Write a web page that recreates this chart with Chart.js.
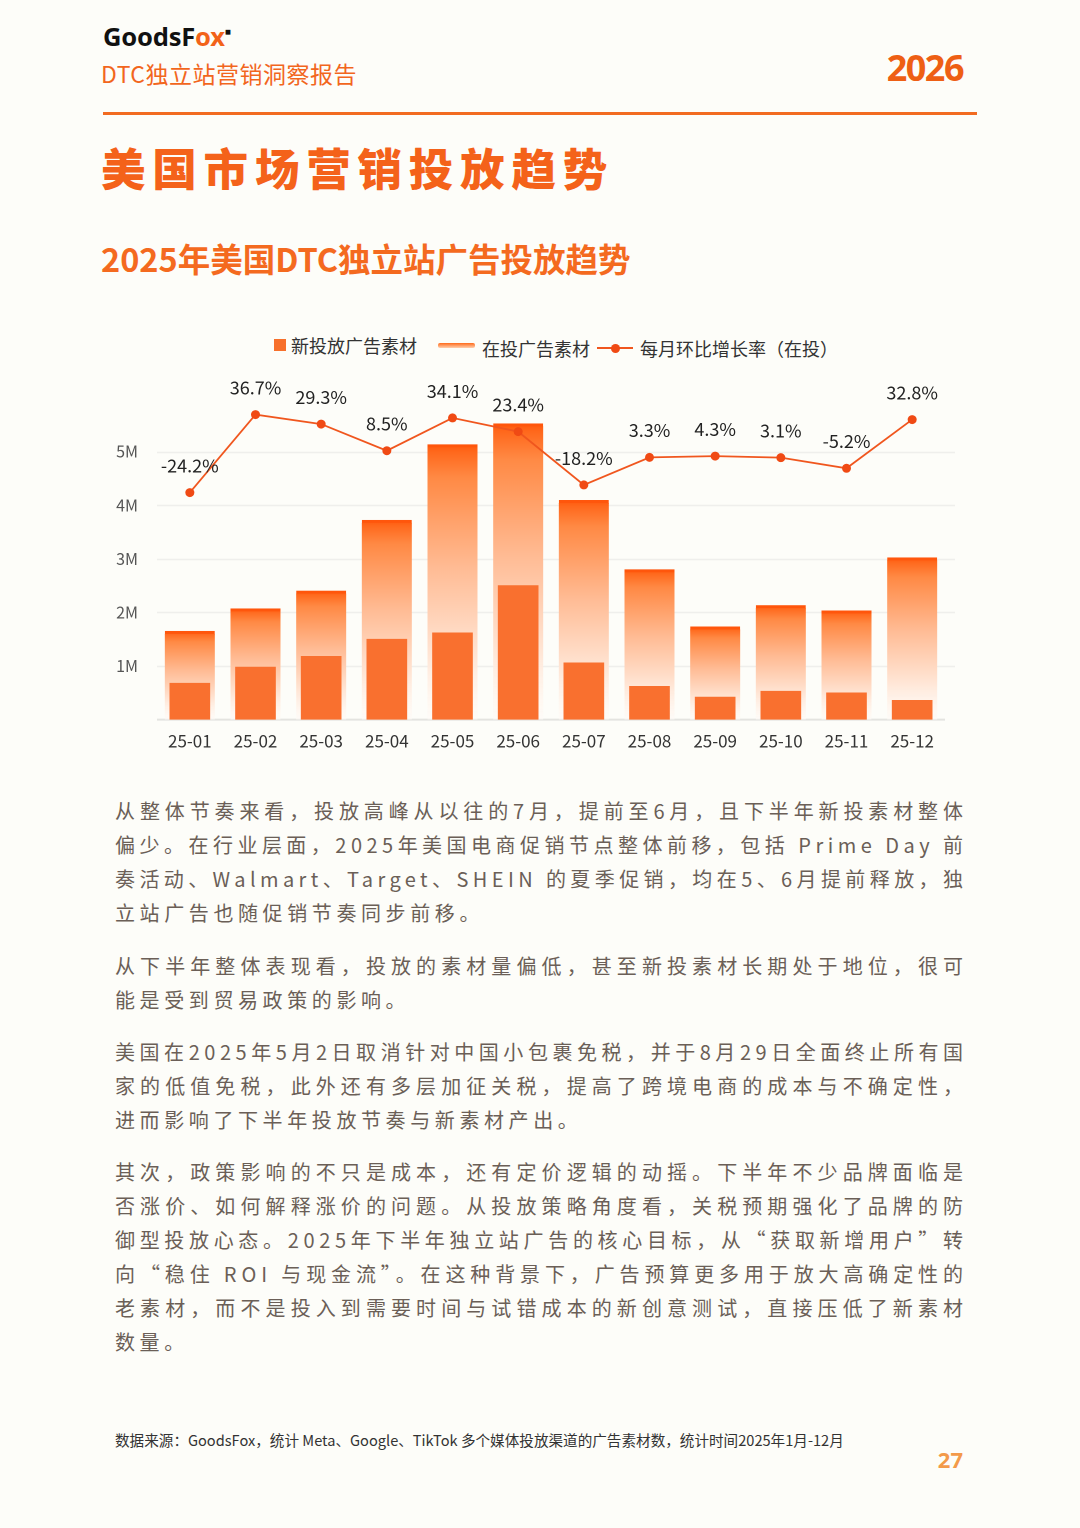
<!DOCTYPE html>
<html lang="zh-CN">
<head>
<meta charset="utf-8">
<script src="https://cdn.jsdelivr.net/npm/chart.js@4.4.1/dist/chart.umd.min.js"></script>
<style>
  html, body { margin: 0; padding: 0; }
  body {
    width: 1080px; height: 1528px; position: relative; overflow: hidden;
    background: #fdfdf9; font-family: "Noto Sans CJK SC", "Noto Sans", sans-serif;
  }
  .abs { position: absolute; white-space: nowrap; }
  .logo { left: 103px; top: 19px; font-family: "Noto Sans", sans-serif; font-weight: 700; font-size: 25.5px; color: #111; letter-spacing: -0.2px; }
  .logo .o { color: #f2631a; }
  .logo sup { font-size: 10px; vertical-align: 11px; color: #111; }
  .report { left: 101px; top: 57px; font-size: 23px; color: #f2661d; letter-spacing: 0.5px; line-height: 32px; }
  .year { right: 117px; top: 46px; font-family: "Noto Sans", sans-serif; font-weight: 700; font-size: 36px; color: #ee5f14; letter-spacing: -1.5px; line-height: 44px; }
  .rule { left: 103px; top: 112px; width: 874px; height: 3px; background: #f26b21; }
  .title { left: 101px; top: 137px; font-size: 44.5px; font-weight: 900; color: #f4621a; letter-spacing: 6.8px; line-height: 60px; }
  .subtitle { left: 101px; top: 236px; font-size: 32.5px; font-weight: 700; color: #f46a1f; line-height: 44px; letter-spacing: 0; }
  .leg { font-size: 18px; color: #333; line-height: 24px; }
  .para { left: 115px; width: 848px; font-size: 20px; line-height: 34px; color: #6b5f57; letter-spacing: 4.6px; }
  .foot { left: 115px; top: 1429px; font-size: 14.6px; color: #333; line-height: 22px; }
  .page { right: 117px; top: 1444px; font-family: "Noto Sans", sans-serif; font-weight: 700; font-size: 22px; color: #f39a4a; line-height: 30px; }
  #chartWrap { position: absolute; left: 99px; top: 360px; width: 870px; height: 400px; }
</style>
</head>
<body>
<div class="abs logo">GoodsF<span class="o">ox</span><sup>■</sup></div>
<div class="abs report">DTC独立站营销洞察报告</div>
<div class="abs year">2026</div>
<div class="abs rule"></div>
<div class="abs title">美国市场营销投放趋势</div>
<div class="abs subtitle">2025年美国DTC独立站广告投放趋势</div>

<!-- legend -->
<div class="abs" style="left:274px;top:339px;width:12px;height:12px;background:#f7702c;"></div>
<div class="abs leg" style="left:291px;top:333px;">新投放广告素材</div>
<div class="abs" style="left:438px;top:343px;width:37px;height:5px;background:linear-gradient(to bottom,#ff6a1a,#ffcfae);border-radius:2px;"></div>
<div class="abs leg" style="left:482px;top:336px;">在投广告素材</div>
<div class="abs" style="left:597px;top:347px;width:36px;height:2px;background:#f0561e;"></div>
<div class="abs" style="left:611px;top:344px;width:9px;height:9px;border-radius:50%;background:#f04a14;"></div>
<div class="abs leg" style="left:640px;top:336px;">每月环比增长率（在投）</div>

<div id="chartWrap"><canvas id="c"></canvas></div>

<div class="abs para j" style="top:794px;">从整体节奏来看，投放高峰从以往的7月，提前至6月，且下半年新投素材整体</div>
<div class="abs para j" style="top:828px;">偏少。在行业层面，2025年美国电商促销节点整体前移，包括 Prime Day 前</div>
<div class="abs para j" style="top:862px;">奏活动、Walmart、Target、SHEIN 的夏季促销，均在5、6月提前释放，独</div>
<div class="abs para" style="top:896px;">立站广告也随促销节奏同步前移。</div>

<div class="abs para j" style="top:949px;">从下半年整体表现看，投放的素材量偏低，甚至新投素材长期处于地位，很可</div>
<div class="abs para" style="top:983px;">能是受到贸易政策的影响。</div>

<div class="abs para j" style="top:1035px;">美国在2025年5月2日取消针对中国小包裹免税，并于8月29日全面终止所有国</div>
<div class="abs para j" style="top:1069px;">家的低值免税，此外还有多层加征关税，提高了跨境电商的成本与不确定性，</div>
<div class="abs para" style="top:1103px;">进而影响了下半年投放节奏与新素材产出。</div>

<div class="abs para j" style="top:1155px;">其次，政策影响的不只是成本，还有定价逻辑的动摇。下半年不少品牌面临是</div>
<div class="abs para j" style="top:1189px;">否涨价、如何解释涨价的问题。从投放策略角度看，关税预期强化了品牌的防</div>
<div class="abs para j" style="top:1223px;">御型投放心态。2025年下半年独立站广告的核心目标，从“获取新增用户”转</div>
<div class="abs para j" style="top:1257px;">向“稳住 ROI 与现金流”。在这种背景下，广告预算更多用于放大高确定性的</div>
<div class="abs para j" style="top:1291px;">老素材，而不是投入到需要时间与试错成本的新创意测试，直接压低了新素材</div>
<div class="abs para" style="top:1325px;">数量。</div>

<div class="abs foot">数据来源：GoodsFox，统计 Meta、Google、TikTok 多个媒体投放渠道的广告素材数，统计时间2025年1月-12月</div>
<div class="abs page">27</div>

<script>
// even letter-spacing so each full line spans the text column
document.querySelectorAll('.para.j').forEach(el => {
  el.style.letterSpacing = '0px';
  el.style.width = 'auto';
  const w0 = el.getBoundingClientRect().width;
  const n = Array.from(el.textContent).length;
  el.style.letterSpacing = ((848 - w0) / (n - 1)) + 'px';
});

// ---- data ----
const months = ['25-01','25-02','25-03','25-04','25-05','25-06','25-07','25-08','25-09','25-10','25-11','25-12'];
const newAds = [680000, 980000, 1180000, 1500000, 1620000, 2500000, 1060000, 620000, 420000, 530000, 500000, 360000];
const liveAds = [1650000, 2070000, 2400000, 3720000, 5130000, 5520000, 4090000, 2800000, 1730000, 2130000, 2030000, 3020000];
const momGrowth = [-24.2, 36.7, 29.3, 8.5, 34.1, 23.4, -18.2, 3.3, 4.3, 3.1, -5.2, 32.8];
const yTickValues = [1000000, 2000000, 3000000, 4000000, 5000000];
const yTickLabels = ['1M', '2M', '3M', '4M', '5M'];
const seriesNames = ['新投放广告素材', '在投广告素材', '每月环比增长率（在投）'];

const FONT = '"Noto Sans CJK SC", "Noto Sans", sans-serif';

function liveGradient(ctx) {
  const chart = ctx.chart;
  if (!chart.chartArea || ctx.raw == null) return '#ff9a5e';
  const ys = chart.scales.y;
  const top = ys.getPixelForValue(ctx.raw);
  const bot = ys.getPixelForValue(0);
  const g = chart.ctx.createLinearGradient(0, top, 0, bot);
  g.addColorStop(0, '#ff5a0e');
  g.addColorStop(0.03, '#ff6a1e');
  g.addColorStop(0.12, '#ff8a45');
  g.addColorStop(0.45, '#ffbc95');
  g.addColorStop(0.8, '#ffeadc');
  g.addColorStop(1, 'rgba(255,250,246,0.6)');
  return g;
}

const gridPlugin = {
  id: 'extGrid',
  beforeDatasetsDraw(chart) {
    const { ctx, chartArea } = chart;
    const ys = chart.scales.y;
    ctx.save();
    ys.ticks.forEach(t => {
      const y = Math.round(ys.getPixelForValue(t.value)) + 0.5;
      ctx.strokeStyle = '#efefec';
      ctx.lineWidth = 1.5;
      ctx.beginPath();
      ctx.moveTo(chartArea.left, y);
      ctx.lineTo(chartArea.right + 10, y);
      ctx.stroke();
    });
    const y0 = ys.getPixelForValue(0);
    ctx.strokeStyle = '#e4e4e0';
    ctx.lineWidth = 2;
    ctx.beginPath();
    ctx.moveTo(chartArea.left, y0);
    ctx.lineTo(chartArea.right, y0);
    ctx.stroke();
    ctx.restore();
  }
};

const labelPlugin = {
  id: 'pointLabels',
  afterDatasetsDraw(chart) {
    const { ctx } = chart;
    const idx = chart.data.datasets.findIndex(d => d.type === 'line');
    const meta = chart.getDatasetMeta(idx);
    ctx.save();
    ctx.font = '18px ' + FONT;
    ctx.fillStyle = '#222';
    ctx.textAlign = 'center';
    ctx.textBaseline = 'middle';
    meta.data.forEach((pt, i) => {
      ctx.fillText(momGrowth[i].toFixed(1) + '%', pt.x, pt.y - 27);
    });
    ctx.restore();
  }
};

new Chart(document.getElementById('c'), {
  type: 'bar',
  data: {
    labels: months,
    datasets: [
      {
        type: 'line', label: seriesNames[2], data: momGrowth, yAxisID: 'y1', order: 0,
        borderColor: '#f0561e', borderWidth: 1.8, pointRadius: 4.5, pointHoverRadius: 4.5,
        pointBackgroundColor: '#f04a14', pointBorderColor: '#f04a14', pointBorderWidth: 0,
        tension: 0, clip: false
      },
      {
        label: seriesNames[0], data: newAds, yAxisID: 'y', order: 1, grouped: false,
        backgroundColor: '#f9702f', barThickness: 40, borderWidth: 0
      },
      {
        label: seriesNames[1], data: liveAds, yAxisID: 'y', order: 2, grouped: false,
        backgroundColor: liveGradient, barThickness: 50,
        borderColor: '#ff560c', borderWidth: { top: 3, left: 0, right: 0, bottom: 0 }, borderSkipped: false
      }
    ]
  },
  options: {
    responsive: true, maintainAspectRatio: false, animation: false,
    devicePixelRatio: 2,
    layout: { padding: { top: 38, right: 24, bottom: 6.4, left: 0 } },
    plugins: { legend: { display: false }, tooltip: { enabled: false } },
    scales: {
      x: {
        grid: { display: false, drawTicks: false },
        border: { display: false },
        ticks: { color: '#333', font: { family: FONT, size: 17 }, padding: 11 },
        afterFit(s) { s.height = 34; }
      },
      y: {
        min: 0, max: 6000000,
        grid: { display: false, drawTicks: false },
        border: { display: false },
        afterBuildTicks(s) { s.ticks = yTickValues.map(v => ({ value: v })); },
        ticks: {
          color: '#555', font: { family: FONT, size: 16 }, padding: 19,
          callback: (v) => { const k = yTickValues.indexOf(v); return k >= 0 ? yTickLabels[k] : ''; }
        },
        afterFit(s) { s.width = 58; }
      },
      y1: {
        display: false, min: -201.4, max: 49.65
      }
    }
  },
  plugins: [gridPlugin, labelPlugin]
});
</script>
</body>
</html>
